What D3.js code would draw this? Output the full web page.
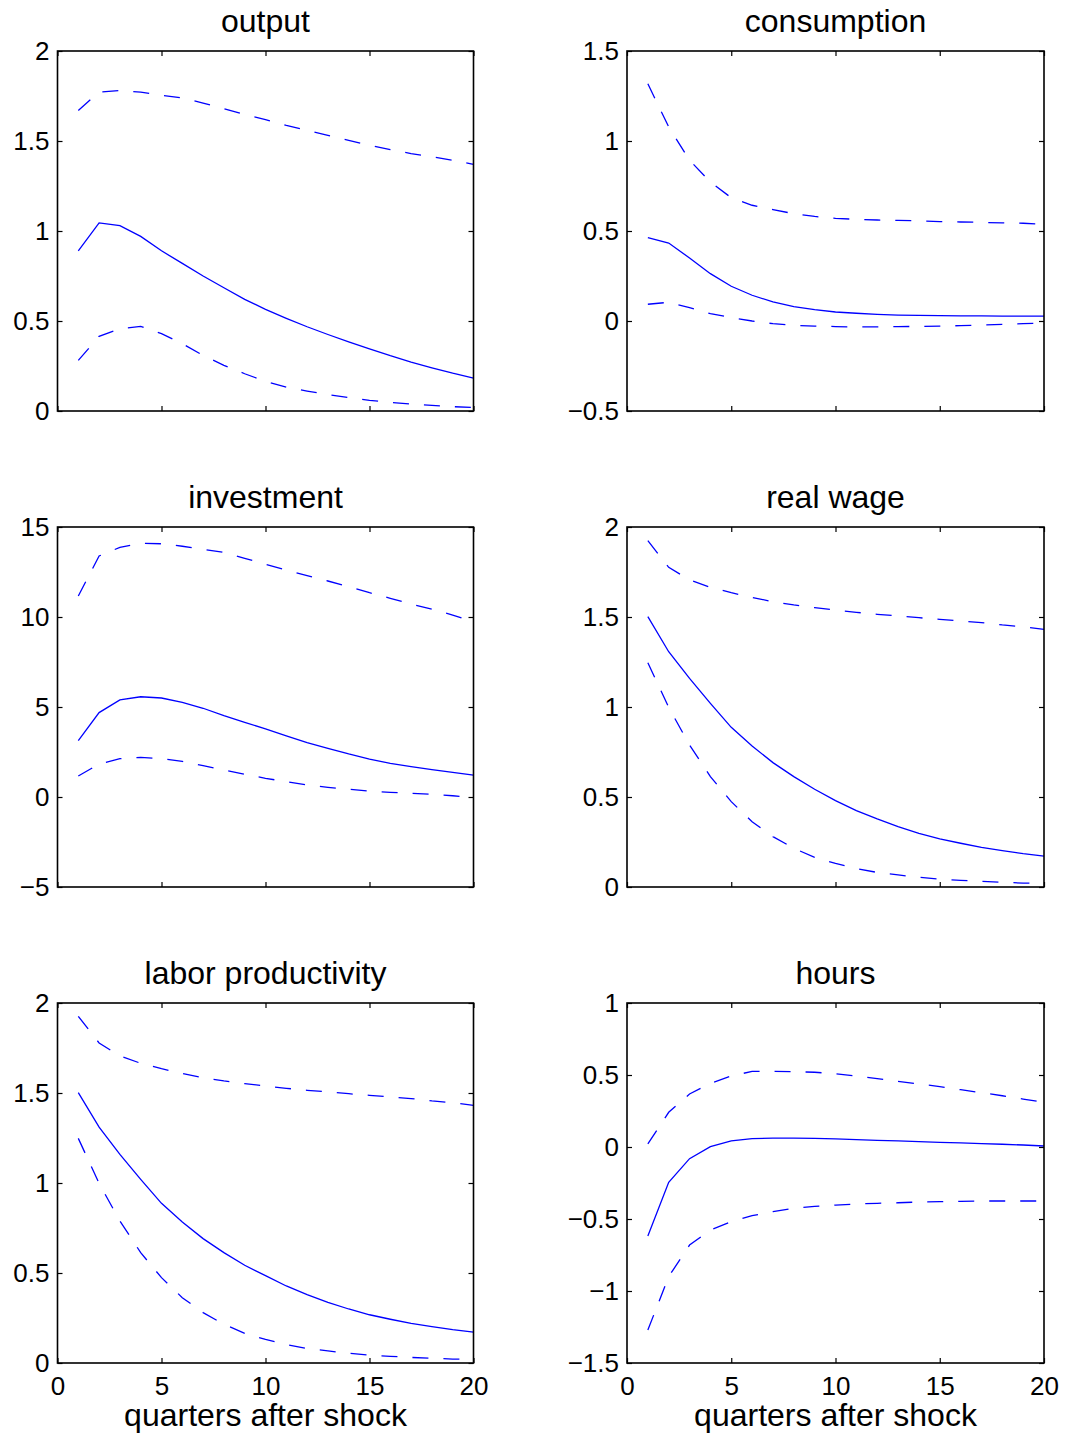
<!DOCTYPE html>
<html>
<head>
<meta charset="utf-8">
<script src="https://cdn.jsdelivr.net/npm/d3@7"></script>
<style>
  body { margin: 0; background: #fff; }
  svg { display: block; }
  text { font-family: "Liberation Sans", Arial, Helvetica, sans-serif; fill: #000; }
</style>
</head>
<body>
<svg id="chart" width="1068" height="1436"></svg>
<script>
// Horizon (quarters after the shock) and shared x-axis ticks
const quarters = [1, 2, 3, 4, 5, 6, 7, 8, 9, 10, 11, 12, 13, 14, 15, 16, 17, 18, 19, 20];
const xTicks = [0, 5, 10, 15, 20];
const xTickLabels = ["0", "5", "10", "15", "20"];
const xAxisTitle = "quarters after shock";

// output
const outputMean  = [0.89, 1.045, 1.03, 0.97, 0.89, 0.82, 0.75, 0.685, 0.62, 0.565, 0.515, 0.468, 0.425, 0.384, 0.345, 0.307, 0.272, 0.240, 0.210, 0.183];
const outputUpper = [1.67, 1.772, 1.78, 1.772, 1.754, 1.739, 1.711, 1.68, 1.648, 1.619, 1.587, 1.559, 1.531, 1.504, 1.476, 1.452, 1.43, 1.412, 1.393, 1.37];
const outputLower = [0.281, 0.415, 0.457, 0.47, 0.43, 0.374, 0.309, 0.254, 0.207, 0.165, 0.133, 0.111, 0.091, 0.074, 0.059, 0.048, 0.039, 0.031, 0.024, 0.019];
const outputTicks = [0, 0.5, 1, 1.5, 2];
const outputTickLabels = ["0", "0.5", "1", "1.5", "2"];

// consumption
const consumptionMean  = [0.463, 0.433, 0.35, 0.263, 0.193, 0.143, 0.106, 0.080, 0.063, 0.05, 0.043, 0.037, 0.033, 0.031, 0.030, 0.028, 0.028, 0.027, 0.027, 0.027];
const consumptionUpper = [1.318, 1.078, 0.893, 0.772, 0.685, 0.643, 0.619, 0.596, 0.581, 0.570, 0.565, 0.561, 0.559, 0.556, 0.552, 0.55, 0.548, 0.545, 0.543, 0.537];
const consumptionLower = [0.093, 0.104, 0.074, 0.041, 0.019, 0.0, -0.015, -0.024, -0.028, -0.031, -0.033, -0.033, -0.031, -0.03, -0.028, -0.026, -0.022, -0.019, -0.015, -0.011];
const consumptionTicks = [-0.5, 0, 0.5, 1, 1.5];
const consumptionTickLabels = ["\u22120.5", "0", "0.5", "1", "1.5"];

// investment
const investmentMean  = [3.13, 4.69, 5.39, 5.57, 5.5, 5.26, 4.93, 4.52, 4.15, 3.78, 3.39, 3.02, 2.70, 2.39, 2.11, 1.87, 1.69, 1.52, 1.37, 1.22];
const investmentUpper = [11.17, 13.39, 13.87, 14.09, 14.07, 13.93, 13.76, 13.59, 13.26, 12.93, 12.61, 12.3, 12.0, 11.69, 11.35, 11.04, 10.72, 10.43, 10.11, 9.74];
const investmentLower = [1.17, 1.83, 2.13, 2.2, 2.13, 1.98, 1.74, 1.5, 1.26, 1.04, 0.85, 0.67, 0.54, 0.43, 0.33, 0.26, 0.2, 0.15, 0.07, -0.04];
const investmentTicks = [-5, 0, 5, 10, 15];
const investmentTickLabels = ["\u22125", "0", "5", "10", "15"];

// real wage
const wageMean  = [1.502, 1.307, 1.159, 1.02, 0.887, 0.783, 0.691, 0.613, 0.543, 0.48, 0.424, 0.378, 0.335, 0.298, 0.267, 0.243, 0.22, 0.202, 0.185, 0.172];
const wageUpper = [1.924, 1.776, 1.706, 1.665, 1.635, 1.609, 1.585, 1.567, 1.552, 1.539, 1.526, 1.515, 1.506, 1.496, 1.487, 1.478, 1.469, 1.456, 1.446, 1.431];
const wageLower = [1.246, 0.998, 0.789, 0.613, 0.474, 0.363, 0.28, 0.215, 0.165, 0.131, 0.102, 0.081, 0.067, 0.054, 0.044, 0.037, 0.031, 0.026, 0.022, 0.019];
const wageTicks = [0, 0.5, 1, 1.5, 2];
const wageTickLabels = ["0", "0.5", "1", "1.5", "2"];

// labor productivity
const productivityMean  = [1.502, 1.31, 1.159, 1.02, 0.887, 0.783, 0.691, 0.613, 0.543, 0.485, 0.428, 0.38, 0.337, 0.3, 0.268, 0.243, 0.22, 0.202, 0.185, 0.172];
const productivityUpper = [1.926, 1.778, 1.706, 1.665, 1.635, 1.609, 1.585, 1.567, 1.552, 1.539, 1.526, 1.515, 1.506, 1.496, 1.487, 1.478, 1.469, 1.456, 1.446, 1.431];
const productivityLower = [1.248, 0.998, 0.789, 0.613, 0.474, 0.363, 0.28, 0.215, 0.165, 0.131, 0.102, 0.081, 0.067, 0.054, 0.044, 0.037, 0.031, 0.026, 0.022, 0.019];
const productivityTicks = [0, 0.5, 1, 1.5, 2];
const productivityTickLabels = ["0", "0.5", "1", "1.5", "2"];

// hours
const hoursMean  = [-0.618, -0.245, -0.081, 0.002, 0.042, 0.058, 0.062, 0.062, 0.06, 0.056, 0.051, 0.046, 0.042, 0.037, 0.032, 0.028, 0.023, 0.019, 0.014, 0.007];
const hoursUpper = [0.021, 0.241, 0.368, 0.442, 0.493, 0.525, 0.525, 0.523, 0.519, 0.509, 0.493, 0.475, 0.456, 0.438, 0.419, 0.398, 0.377, 0.356, 0.333, 0.31];
const hoursLower = [-1.271, -0.90, -0.681, -0.576, -0.519, -0.477, -0.449, -0.426, -0.412, -0.403, -0.396, -0.391, -0.387, -0.382, -0.38, -0.377, -0.375, -0.375, -0.375, -0.375];
const hoursTicks = [-1.5, -1, -0.5, 0, 0.5, 1];
const hoursTickLabels = ["\u22121.5", "\u22121", "\u22120.5", "0", "0.5", "1"];

const panels = [
  { title: "output", mean: outputMean, upper: outputUpper, lower: outputLower, ticks: outputTicks, labels: outputTickLabels, col: 0, row: 0 },
  { title: "consumption", mean: consumptionMean, upper: consumptionUpper, lower: consumptionLower, ticks: consumptionTicks, labels: consumptionTickLabels, col: 1, row: 0 },
  { title: "investment", mean: investmentMean, upper: investmentUpper, lower: investmentLower, ticks: investmentTicks, labels: investmentTickLabels, col: 0, row: 1 },
  { title: "real wage", mean: wageMean, upper: wageUpper, lower: wageLower, ticks: wageTicks, labels: wageTickLabels, col: 1, row: 1 },
  { title: "labor productivity", mean: productivityMean, upper: productivityUpper, lower: productivityLower, ticks: productivityTicks, labels: productivityTickLabels, col: 0, row: 2 },
  { title: "hours", mean: hoursMean, upper: hoursUpper, lower: hoursLower, ticks: hoursTicks, labels: hoursTickLabels, col: 1, row: 2 }
];

// Grid geometry
const colLeft = [57.5, 627];
const colWidth = [416, 417];
const rowTop = [51, 527, 1003];
const plotHeight = 360;
const tickLen = 5;
const lineColor = "#0000ff";

const svg = d3.select("#chart");

panels.forEach(p => {
  const w = colWidth[p.col];
  const g = svg.append("g")
    .attr("transform", `translate(${colLeft[p.col]},${rowTop[p.row]})`);

  const x = d3.scaleLinear().domain([0, 20]).range([0, w]);
  const y = d3.scaleLinear()
    .domain([p.ticks[0], p.ticks[p.ticks.length - 1]])
    .range([plotHeight, 0]);

  const isBottom = p.row === 2;

  // inward ticks on all four sides
  const left = d3.axisLeft(y).tickValues(p.ticks).tickSize(-tickLen).tickPadding(8)
    .tickFormat((d, i) => p.labels[i]);
  const right = d3.axisRight(y).tickValues(p.ticks).tickSize(-tickLen).tickFormat("");
  const bottom = d3.axisBottom(x).tickValues(xTicks).tickSize(-tickLen).tickPadding(14)
    .tickFormat((d, i) => isBottom ? xTickLabels[i] : "");
  const top = d3.axisTop(x).tickValues(xTicks).tickSize(-tickLen).tickFormat("");

  const styleAxis = sel => {
    sel.select(".domain").remove();
    sel.selectAll(".tick line").attr("stroke", "#000").attr("stroke-width", 1.2);
    sel.selectAll(".tick text").attr("font-size", 26).attr("fill", "#000")
      .attr("font-family", "\"Liberation Sans\", Arial, Helvetica, sans-serif");
  };

  g.append("g").call(left).call(styleAxis);
  g.append("g").attr("transform", `translate(${w},0)`).call(right).call(styleAxis);
  g.append("g").attr("transform", `translate(0,${plotHeight})`).call(bottom).call(styleAxis);
  g.append("g").call(top).call(styleAxis);

  // vertical centring of y labels on the digit height
  g.selectAll("g").filter(function () { return this.parentNode === g.node(); });

  const line = d3.line()
    .x((d, i) => x(quarters[i]))
    .y(d => y(d));

  g.append("path").datum(p.upper).attr("d", line)
    .attr("fill", "none").attr("stroke", lineColor).attr("stroke-width", 1.3)
    .attr("stroke-dasharray", "16,15");
  g.append("path").datum(p.lower).attr("d", line)
    .attr("fill", "none").attr("stroke", lineColor).attr("stroke-width", 1.3)
    .attr("stroke-dasharray", "16,15");
  g.append("path").datum(p.mean).attr("d", line)
    .attr("fill", "none").attr("stroke", lineColor).attr("stroke-width", 1.3);

  // axes box
  g.append("rect")
    .attr("x", 0).attr("y", 0).attr("width", w).attr("height", plotHeight)
    .attr("fill", "none").attr("stroke", "#000").attr("stroke-width", 1.6);

  // panel title
  g.append("text")
    .attr("x", w / 2).attr("y", -19)
    .attr("text-anchor", "middle")
    .attr("font-size", 32)
    .text(p.title);

  if (isBottom) {
    g.append("text")
      .attr("x", w / 2).attr("y", plotHeight + 63)
      .attr("text-anchor", "middle")
      .attr("font-size", 32)
      .text(xAxisTitle);
  }
});
</script>
</body>
</html>
